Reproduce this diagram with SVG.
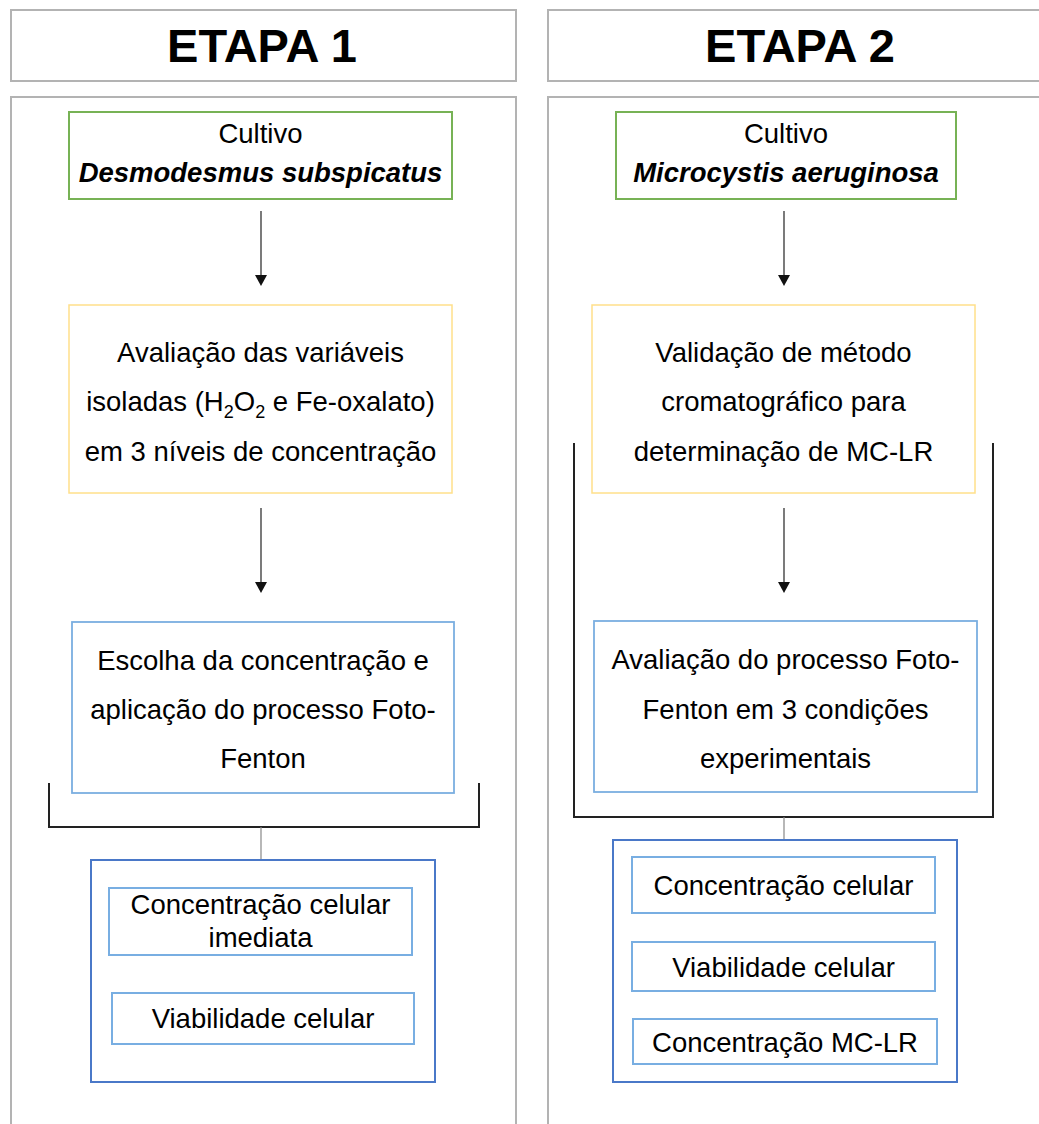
<svg xmlns="http://www.w3.org/2000/svg" width="1039" height="1124" viewBox="0 0 1039 1124">
<style>
  text{font-family:"Liberation Sans",Arial,sans-serif;fill:#000;text-anchor:middle}
  .t{font-size:27.5px}
  .h{font-size:47px;font-weight:bold}
  .bi{font-size:27.5px;font-weight:bold;font-style:italic}
  .panel{fill:#fff;stroke:#b3b3b3;stroke-width:2}
  .g{fill:#fff;stroke:#77b255;stroke-width:2}
  .y{fill:#fff;stroke:#ffe08a;stroke-width:1.5}
  .b{fill:#fff;stroke:#7aaee0;stroke-width:1.8}
  .ob{fill:#fff;stroke:#4a78c8;stroke-width:2}
  .ib{fill:#fff;stroke:#78aee2;stroke-width:2}
  .arr{stroke:#222;stroke-width:1.2;fill:none}
  .brk{stroke:#222;stroke-width:2;fill:none}
  .stem{stroke:#888;stroke-width:1.2;fill:none}
  .head{fill:#111}
</style>
<rect width="1039" height="1124" fill="#fff"/>

<g id="header1"><rect class="panel" x="11" y="10" width="505" height="71"/><text class="h" x="262" y="62">ETAPA 1</text></g>
<g id="header2"><rect class="panel" x="548" y="10" width="505" height="71"/><text class="h" x="800" y="62">ETAPA 2</text></g>
<g id="panel1"><rect class="panel" x="11" y="97" width="505" height="1040"/></g>
<g id="panel2"><rect class="panel" x="548" y="97" width="505" height="1040"/></g>

<g id="connectors">
  <line class="arr" x1="261" y1="211" x2="261" y2="276"/>
  <path class="head" d="M255,275 L267,275 L261,286 Z"/>
  <line class="arr" x1="261" y1="508" x2="261" y2="583"/>
  <path class="head" d="M255,582 L267,582 L261,593 Z"/>
  <line class="arr" x1="784" y1="211" x2="784" y2="276"/>
  <path class="head" d="M778,275 L790,275 L784,286 Z"/>
  <line class="arr" x1="784" y1="508" x2="784" y2="583"/>
  <path class="head" d="M778,582 L790,582 L784,593 Z"/>
  <path class="brk" d="M49,783 V827 H479 V783"/>
  <line class="stem" x1="261" y1="827" x2="261" y2="860"/>
  <path class="brk" d="M574,443 V817 H993 V443"/>
  <line class="stem" x1="784" y1="817" x2="784" y2="840"/>
</g>

<g id="cultivo1"><rect class="g" x="69" y="112" width="383" height="87"/>
  <text class="t" x="260.5" y="143">Cultivo</text>
  <text class="bi" x="260.5" y="182">Desmodesmus subspicatus</text></g>
<g id="avaliacao1"><rect class="y" x="69" y="305" width="383" height="188"/>
  <text class="t" x="260.5" y="362">Avaliação das variáveis</text>
  <text class="t" x="260.5" y="411">isoladas (H<tspan font-size="18" dy="7">2</tspan><tspan dy="-7">O</tspan><tspan font-size="18" dy="7">2</tspan><tspan dy="-7"> e Fe-oxalato)</tspan></text>
  <text class="t" x="260.5" y="461">em 3 níveis de concentração</text></g>
<g id="escolha1"><rect class="b" x="72" y="622" width="382" height="171"/>
  <text class="t" x="263" y="670">Escolha da concentração e</text>
  <text class="t" x="263" y="719">aplicação do processo Foto-</text>
  <text class="t" x="263" y="768">Fenton</text></g>
<g id="resultados1"><rect class="ob" x="91" y="860" width="344" height="222"/>
  <rect class="ib" x="109" y="888" width="303" height="67"/>
  <text class="t" x="260.5" y="914">Concentração celular</text>
  <text class="t" x="260.5" y="947">imediata</text>
  <rect class="ib" x="112" y="993" width="302" height="51"/>
  <text class="t" x="263" y="1028">Viabilidade celular</text></g>

<g id="cultivo2"><rect class="g" x="616" y="112" width="340" height="87"/>
  <text class="t" x="786" y="143">Cultivo</text>
  <text class="bi" x="786" y="182">Microcystis aeruginosa</text></g>
<g id="validacao2"><rect class="y" x="592" y="305" width="383" height="188"/>
  <text class="t" x="783.5" y="362">Validação de método</text>
  <text class="t" x="783.5" y="411">cromatográfico para</text>
  <text class="t" x="783.5" y="461">determinação de MC-LR</text></g>
<g id="avaliacao2"><rect class="b" x="594" y="621" width="383" height="171"/>
  <text class="t" x="785.5" y="669">Avaliação do processo Foto-</text>
  <text class="t" x="785.5" y="719">Fenton em 3 condições</text>
  <text class="t" x="785.5" y="768">experimentais</text></g>
<g id="resultados2"><rect class="ob" x="613" y="840" width="344" height="242"/>
  <rect class="ib" x="632" y="857" width="303" height="56"/>
  <text class="t" x="783.5" y="895">Concentração celular</text>
  <rect class="ib" x="632" y="942" width="303" height="49"/>
  <text class="t" x="783.5" y="977">Viabilidade celular</text>
  <rect class="ib" x="633" y="1019" width="304" height="45"/>
  <text class="t" x="785" y="1052">Concentração MC-LR</text></g>
</svg>
